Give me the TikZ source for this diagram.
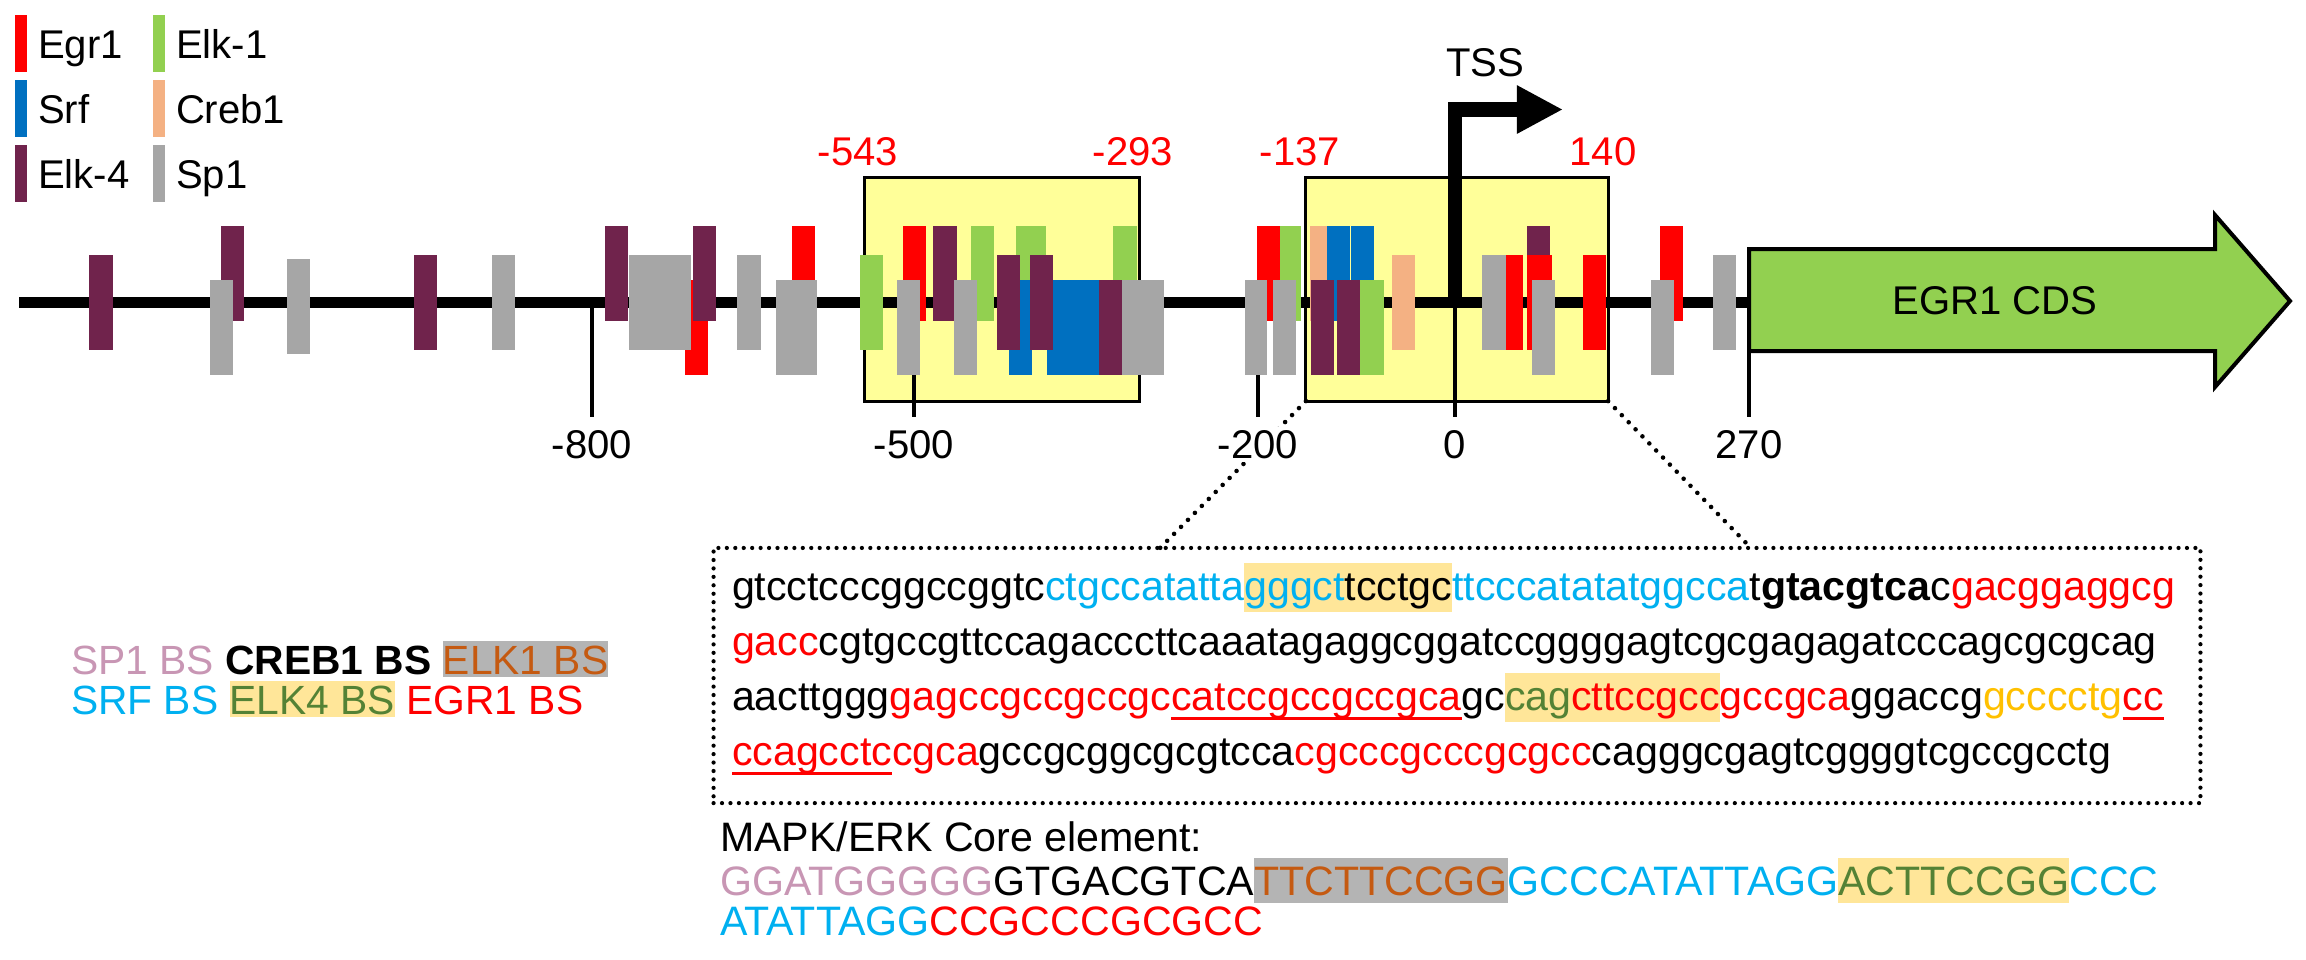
\documentclass[tikz,border=0pt]{standalone}
\usepackage{fontspec}
\setmainfont{Liberation Sans}
\usetikzlibrary{arrows.meta}
\usetikzlibrary{positioning}

\definecolor{egrred}{HTML}{FF0000}
\definecolor{srfblue}{HTML}{0070C0}
\definecolor{elkfour}{HTML}{70234C}
\definecolor{elkone}{HTML}{92D050}
\definecolor{crebone}{HTML}{F4B183}
\definecolor{spone}{HTML}{A6A6A6}
\definecolor{boxyellow}{HTML}{FFFF99}
\definecolor{seqblue}{HTML}{00B0F0}
\definecolor{seqgold}{HTML}{FFC000}
\definecolor{seqgreen}{HTML}{548235}
\definecolor{seqbrown}{HTML}{C55A11}
\definecolor{seqpink}{HTML}{C896B4}
\definecolor{hlorange}{HTML}{FFE699}
\definecolor{hlgray}{HTML}{B4B4B4}

\newsavebox{\ulbox}
\newcommand{\hlseq}[2]{{\setlength{\fboxsep}{0pt}\colorbox{#1}{\rule[-0.3em]{0pt}{1.2em}#2}}}
\newcommand{\hlcap}[2]{{\setlength{\fboxsep}{0pt}\colorbox{#1}{\rule[-0.2em]{0pt}{1.1em}#2}}}
\newcommand{\hlkey}[2]{{\setlength{\fboxsep}{0pt}\colorbox{#1}{\rule[-0.08em]{0pt}{0.9em}#2}}}
\newcommand{\ulred}[1]{\sbox{\ulbox}{#1}\rlap{\rule[-0.24em]{\wd\ulbox}{0.06em}}\usebox{\ulbox}}

\begin{document}
\begin{tikzpicture}[x=0.01cm,y=-0.01cm,
  every node/.style={inner sep=0pt,outer sep=0pt,font=\fontsize{11.4}{13.7}\selectfont},
  track/.style={line width=0.11cm},
  tick/.style={line width=0.04cm},
  zoombox/.style={draw,fill=boxyellow,line width=0.03cm},
  dotline/.style={line width=1.3pt,dash pattern=on 0pt off 2.8pt,line cap=round},
  dotbox/.style={draw,line width=1.2pt,dash pattern=on 0pt off 2.4pt,line cap=round},
  tss/.style={line width=0.145cm,-{Triangle[length=0.46cm,width=0.45cm]}},
  cds/.style={draw,fill=elkone,line width=0.04cm,line join=miter},
  poslabel/.style={anchor=base,text=egrred},
  ticklabel/.style={anchor=base,fill=white,inner sep=1pt},
  seqline/.style={anchor=base west,font=\fontsize{11.7}{14}\selectfont}]

  \useasboundingbox (0,0) rectangle (2306,959);

  % key
  \foreach \col/\lab/\x/\y [count=\i] in {egrred/Egr1/15/15, srfblue/Srf/15/80,
      elkfour/Elk-4/15/145, elkone/Elk-1/153/15, crebone/Creb1/153/80, spone/Sp1/153/145} {
    \fill[\col] (\x,\y) rectangle ++(12,57);
    \node[anchor=base west] (key\i) at (\x+23,\y+43) {\lab};
  }

  % zoomed regions
  \node[zoombox,minimum width=2.74cm,minimum height=2.23cm] (zoomA) at (1002,289.5) {};
  \node[zoombox,minimum width=3.02cm,minimum height=2.23cm] (zoomB) at (1457,289.5) {};

  \node[poslabel] (posA1) at (858,165) {-543};
  \node[poslabel] (posA2) at (1133,165) {-293};
  \node[poslabel] (posB1) at (1300,165) {-137};
  \node[poslabel] (posB2) at (1603,165) {140};

  % promoter line
  \coordinate (start) at (19,302);
  \coordinate (cdsstart) at (1749,302);
  \draw[track] (start) -- (cdsstart);
  \foreach \x in {592,914,1258,1455,1749}
    \draw[tick] (\x,302) -- (\x,417);

  \draw[tss] (1455,302) |- (1563,109.5);
  \node[anchor=base] (tss) at (1485,76) {TSS};

  % binding sites
  \foreach \col/\xl/\xr/\yt in {elkfour/89/113/255, elkfour/221/244/226, spone/210/233/280,
      spone/287/310/259, elkfour/414/437/255, spone/492/515/255, elkfour/605/628/226,
      egrred/685/708/280, spone/629/691/255, elkfour/693/716/226, spone/737/761/255,
      egrred/792/815/226, spone/776/817/280, elkone/860/883/255, egrred/903/926/226,
      spone/897/920/280, elkfour/933/957/226, elkone/971/994/226, spone/954/977/280,
      elkone/1016/1046/226, srfblue/1009/1032/280, elkfour/997/1020/255,
      srfblue/1047/1100/280, elkfour/1030/1053/255, elkone/1113/1137/226,
      elkfour/1099/1122/280, spone/1122/1164/280, egrred/1257/1280/226,
      elkone/1280/1301/226, spone/1245/1267/280, spone/1273/1296/280,
      crebone/1310/1333/226, srfblue/1327/1350/226, srfblue/1351/1374/226,
      elkfour/1311/1334/280, elkfour/1337/1360/280, elkone/1360/1384/280,
      crebone/1392/1415/255, egrred/1501/1523/255, spone/1482/1506/255,
      elkfour/1527/1550/226, egrred/1527/1552/255, spone/1532/1555/280,
      egrred/1583/1606/255, egrred/1660/1683/226, spone/1651/1674/280,
      spone/1713/1736/255}
    \fill[\col] (\xl,\yt) rectangle (\xr,\yt+95);

  \draw[cds] (1749,249) -- (2215,249) -- (2215,215) -- (2290,301)
    -- (2215,387) -- (2215,351) -- (1749,351) -- cycle;
  \node (cds) at (1995,301) {EGR1 CDS};

  % sequence of the second region
  \node[dotbox,minimum width=14.86cm,minimum height=2.55cm] (seqbox) at (1457,675.5) {};
  \coordinate (seqL) at (1160,548);
  \coordinate (seqR) at (1751,548);
  \draw[dotline] (zoomB.south west) -- (seqL);
  \draw[dotline] (zoomB.south east) -- (seqR);

  \foreach \x/\lab [count=\i] in {592/-800,914/-500,1258/-200,1455/0,1749/270}
    \node[ticklabel] (tick\i) at (\x,458) {\lab};

  \node[seqline] (seq1) at (732,600) {gtcctcccggccggtc\textcolor{seqblue}{ctgccatatta}\hlseq{hlorange}{\textcolor{seqblue}{gggct}tcctgc}\textcolor{seqblue}{ttcccatatatggcca}t\textbf{gtacgtca}c\textcolor{egrred}{gacggaggcg}};
  \node[seqline] (seq2) at (732,655) {\textcolor{egrred}{gacc}cgtgccgttccagacccttcaaatagaggcggatccggggagtcgcgagagatcccagcgcgcag};
  \node[seqline] (seq3) at (732,710) {aacttggg\textcolor{egrred}{gagccgccgccgc\ulred{catccgccgccgca}}gc\hlseq{hlorange}{\textcolor{seqgreen}{cag}\textcolor{egrred}{cttccgcc}}\textcolor{egrred}{gccgca}ggaccg\textcolor{seqgold}{gcccctg}\textcolor{egrred}{\ulred{cc}}};
  \node[seqline] (seq4) at (732,765) {\textcolor{egrred}{\ulred{ccagcctc}cgca}gccgcggcgcgtcca\textcolor{egrred}{cgcccgcccgcgcc}cagggcgagtcggggtcgccgcctg};

  \node[seqline] (core) at (720,851) {MAPK/ERK Core element:};
  \node[seqline] (core1) at (720,895) {\textcolor{seqpink}{GGATGGGGG}GTGACGTCA\hlcap{hlgray}{\textcolor{seqbrown}{TTCTTCCGG}}\textcolor{seqblue}{GCCCATATTAGG}\hlcap{hlorange}{\textcolor{seqgreen}{ACTTCCGG}}\textcolor{seqblue}{CCC}};
  \node[seqline] (core2) at (720,935) {\textcolor{seqblue}{ATATTAGG}\textcolor{egrred}{CCGCCCGCGCC}};

  % colour key of the sequence
  \node[seqline,font=\fontsize{11.6}{14}\selectfont] (bskey1) at (71,674) {\textcolor{seqpink}{SP1 BS} \textbf{CREB1 BS} \hlkey{hlgray}{\textcolor{seqbrown}{ELK1 BS}}};
  \node[seqline,font=\fontsize{11.6}{14}\selectfont] (bskey2) at (71,714) {\textcolor{seqblue}{SRF BS} \hlkey{hlorange}{\textcolor{seqgreen}{ELK4 BS}} \textcolor{egrred}{EGR1 BS}};
\end{tikzpicture}
\end{document}
